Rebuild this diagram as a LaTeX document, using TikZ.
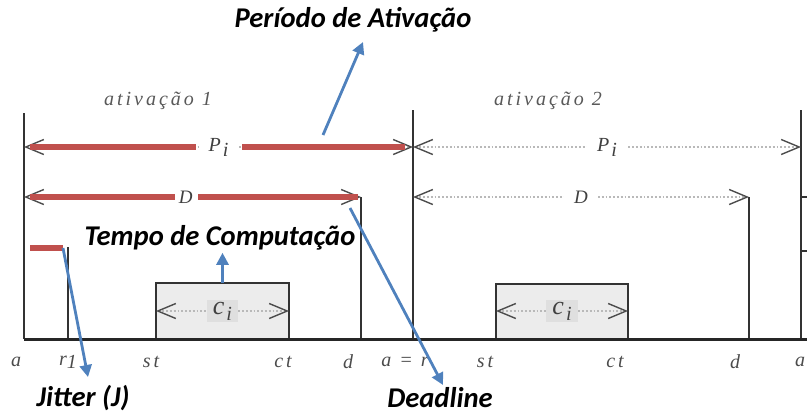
\documentclass[tikz,border=0pt]{standalone}
\usepackage{fontspec}
\usepackage{tikz}
\usetikzlibrary{arrows.meta}
\newfontfamily\serifwide[LetterSpace=15]{Liberation Serif}
\newfontfamily\serifplain{Liberation Serif}
\newfontfamily\calloutfont{Carlito}
\definecolor{actred}{HTML}{C0504D}
\definecolor{actblue}{HTML}{4F81BD}

\begin{document}
\begin{tikzpicture}[x=0.5pt,y=-0.5pt,
  tline/.style={line width=0.8pt,black!80},
  dimline/.style={densely dotted,gray!55,line width=0.9pt,
    {Straight Barb[length=9pt,width=7.5pt,color=black!70,line width=0.7pt]}-{Straight Barb[length=9pt,width=7.5pt,color=black!70,line width=0.7pt]}},
  dimlabel/.style={fill=white,inner xsep=5pt,inner ysep=1pt,text=black!75,font=\serifplain\itshape\fontsize{10}{12}\selectfont},
  redbar/.style={line width=2.8pt,actred},
  callarrow/.style={line width=1.4pt,actblue,-{Triangle[length=6pt,width=6pt]}},
  callout/.style={font=\calloutfont\bfseries\itshape\fontsize{14.3}{16}\selectfont},
  tick/.style={text=black!70,font=\serifwide\itshape\fontsize{10}{12}\selectfont},
  taskbox/.style={draw=black!80,fill=gray!15,line width=0.8pt}]
\useasboundingbox (0,0) rectangle (807,414);

\coordinate (a1top) at (24,113);   \coordinate (a1bot) at (24,339);
\coordinate (r1top) at (68,247);   \coordinate (r1bot) at (68,339);
\coordinate (d1top) at (361,197);  \coordinate (d1bot) at (361,339);
\coordinate (a2top) at (413,110);  \coordinate (a2bot) at (413,339);
\coordinate (d2top) at (749,197);  \coordinate (d2bot) at (749,339);
\coordinate (a3top) at (801,110);  \coordinate (a3bot) at (801,339);
\coordinate (axend) at (807,339);

\draw[taskbox] (156,283) rectangle (289,339);
\draw[taskbox] (496,284) rectangle (628,339);
\coordinate (box1top) at (222.5,283);

\foreach \p in {a1,r1,d1,a2,d2,a3}
  \draw[tline] (\p top) -- (\p bot);
\draw[line width=1.5pt,black!85] (a1bot) -- (axend);
\draw[tline] (801,197) -- (807,197);
\draw[tline] (801,251) -- (807,251);

\coordinate (p1l) at (24,147);  \coordinate (p1r) at (413,147);
\coordinate (p2r) at (801,147);
\coordinate (dl1) at (24,197);  \coordinate (dl2) at (413,197);
\draw[dimline] (p1l) -- node[dimlabel] (pi1) {P\kern1pt\raisebox{-2.5pt}{i}} (p1r);
\draw[dimline] (p1r) -- node[dimlabel] (pi2) {P\kern1pt\raisebox{-2.5pt}{i}} (p2r);
\draw[dimline] (dl1) -- node[dimlabel,pos=0.48,font=\serifplain\itshape\fontsize{9.5}{11}\selectfont] (dd1) {D} (d1top);
\draw[dimline] (dl2) -- node[dimlabel,font=\serifplain\itshape\fontsize{9.5}{11}\selectfont] (dd2) {D} (d2top);

\coordinate (c1l) at (156,311); \coordinate (c1r) at (289,311);
\coordinate (c2l) at (496,311); \coordinate (c2r) at (628,311);
\draw[dimline] (c1l) -- node[dimlabel,fill=gray!25,inner xsep=3pt,font=\serifplain\itshape\fontsize{13}{15}\selectfont] (ci1) {c\kern1pt\raisebox{-3pt}{\fontsize{10}{12}\selectfont i}} (c1r);
\draw[dimline] (c2l) -- node[dimlabel,fill=gray!25,inner xsep=3pt,font=\serifplain\itshape\fontsize{13}{15}\selectfont] (ci2) {c\kern1pt\raisebox{-3pt}{\fontsize{10}{12}\selectfont i}} (c2r);

\draw[redbar] (30,147) -- (196,147);
\draw[redbar] (242,147) -- (405,147);
\draw[redbar] (30,197) -- (175,197);
\draw[redbar] (198,197) -- (358,197);
\draw[redbar] (30,248) -- (63,248);

\node[tick,text=black!65] (act1) at (158,101) {ativação 1};
\node[tick,text=black!65] (act2) at (548,101) {ativação 2};

\node[tick] (ta1) at (16,362) {a};
\node[tick] (tr1) at (68,362) {r\raisebox{-1.5pt}{1}};
\node[tick] (tst1) at (151,362) {st};
\node[tick] (tct1) at (283,362) {ct};
\node[tick] (td1) at (348,362) {d};
\node[tick] (tar) at (405,362) {a = r};
\node[tick] (tst2) at (485,362) {st};
\node[tick] (tct2) at (615,362) {ct};
\node[tick] (td2) at (735,362) {d};
\node[tick] (ta3) at (800,362) {a};

\node[callout] (periodo) at (353,20) {Período de Ativação};
\node[callout,inner sep=1pt] (tempo) at (220,238) {Tempo de Computação};
\node[callout] (jitter) at (83,398) {Jitter (J)};
\node[callout] (deadline) at (440,398) {Deadline};

\coordinate (periodotail) at (323,135); \coordinate (periodotip) at (363,42);
\coordinate (jittertail) at (63,248);   \coordinate (jittertip) at (88,377);
\coordinate (deadtail) at (350,208);    \coordinate (deadtip) at (443,385);
\draw[callarrow] (periodotail) -- (periodotip);
\draw[callarrow] (box1top) -- (box1top |- tempo.south);
\draw[callarrow] (jittertail) -- (jittertip);
\draw[callarrow] (deadtail) -- (deadtip);
\end{tikzpicture}
\end{document}
